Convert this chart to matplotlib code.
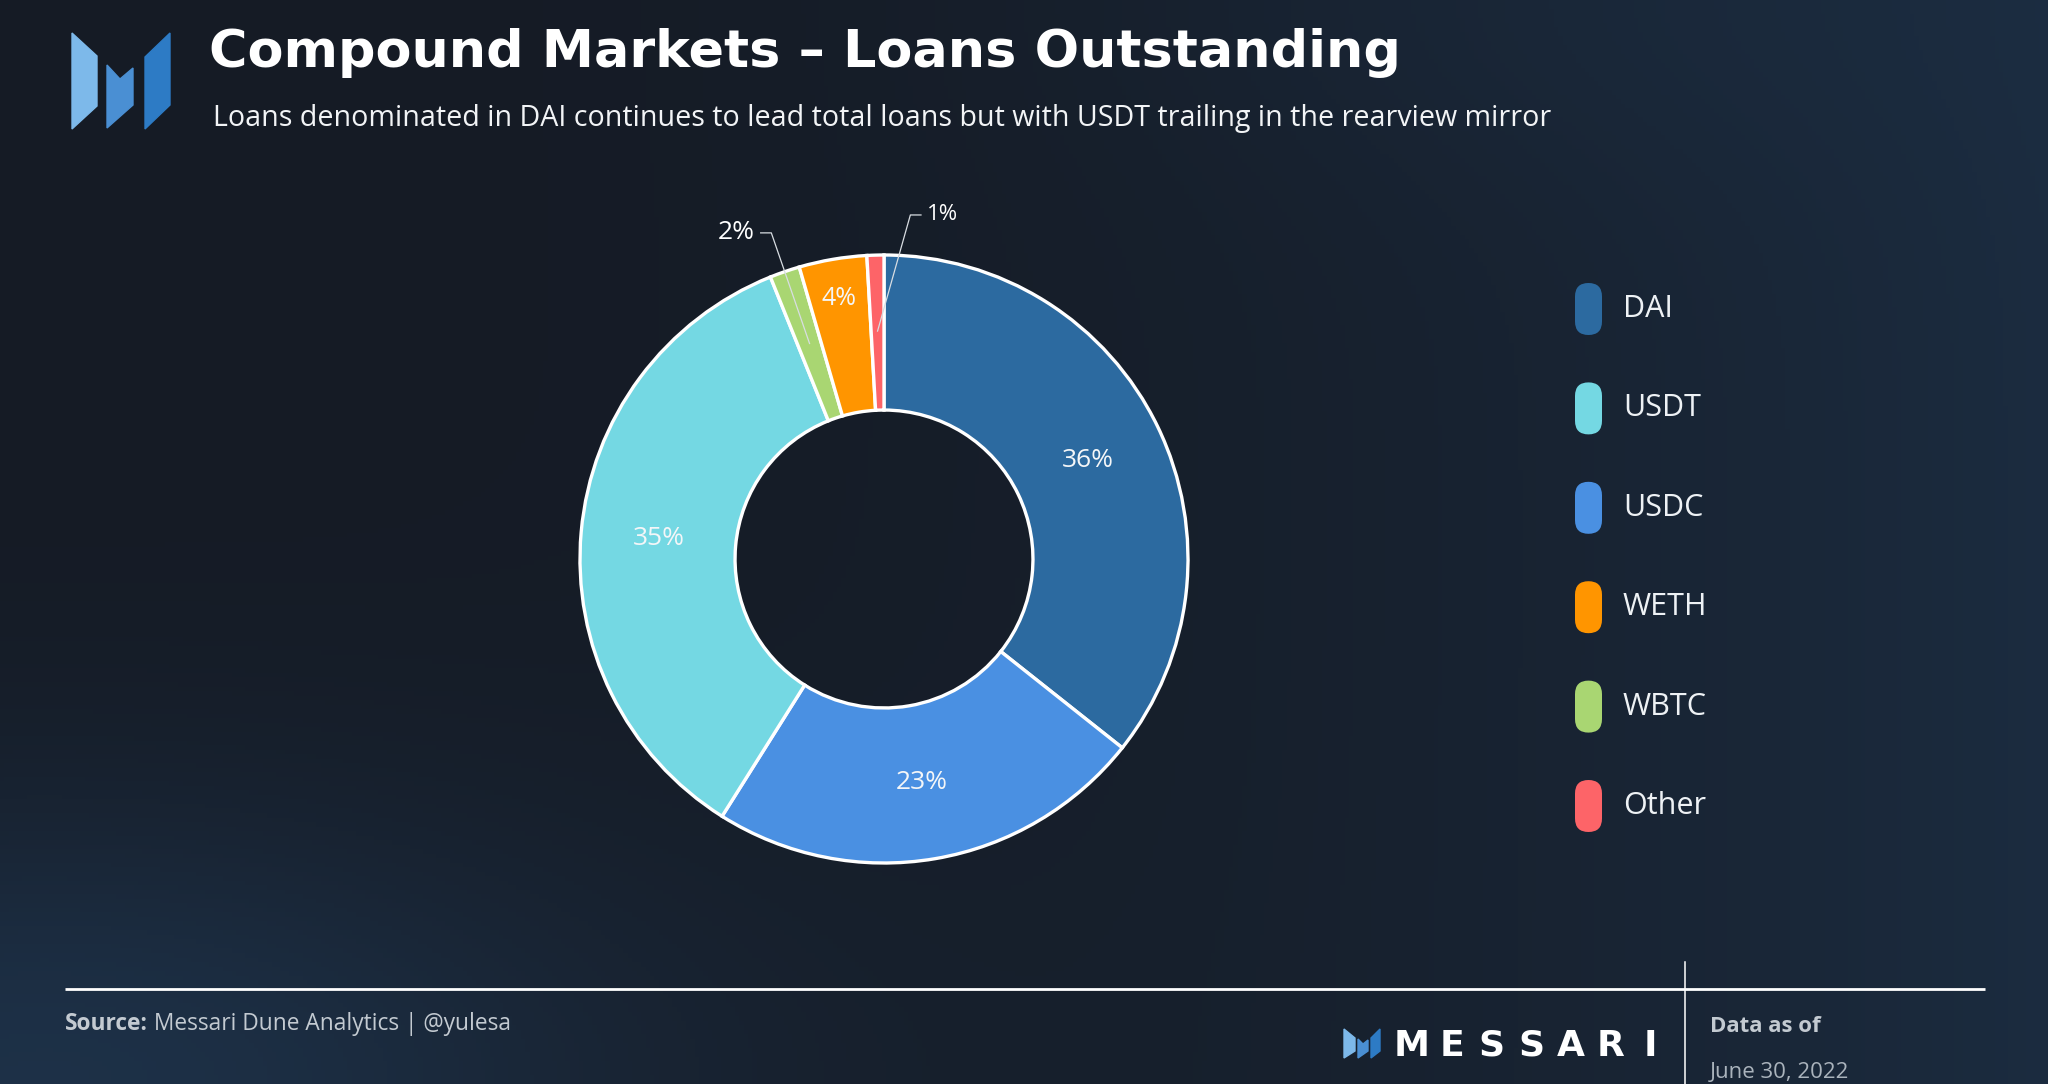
import numpy as np
import matplotlib.pyplot as plt
from matplotlib.patches import FancyBboxPatch, Polygon

# ---- data ----
categories = ["DAI", "USDT", "USDC", "WETH", "WBTC", "Other"]
shares = [35.7, 35.0, 23.3, 3.6, 1.6, 0.9]
colors = ["#2c6aa0", "#74d8e3", "#4a90e2", "#ff9500", "#a9d672", "#fd6468"]
pie_order = ["DAI", "USDC", "USDT", "WBTC", "WETH", "Other"]

title = "Compound Markets – Loans Outstanding"
subtitle = ("Loans denominated in DAI continues to lead total loans but with "
            "USDT trailing in the rearview mirror")
source_label = "Source:"
source_text = " Messari Dune Analytics | @yulesa"
date_label = "Data as of"
date_text = "June 30, 2022"
brand = "MESSARI"

BODY = "Open Sans"
HEAD = "DejaVu Sans"

W, H = 2048, 1084
fig = plt.figure(figsize=(W / 100, H / 100), dpi=100)
renderer = fig.canvas.get_renderer()

# full-figure canvas in pixel coords (y down)
canvas = fig.add_axes([0, 0, 1, 1])
canvas.set_xlim(0, W)
canvas.set_ylim(H, 0)
canvas.axis("off")


def fit_width(txt, target_px):
    # scale the font so the text spans target_px
    ext = txt.get_window_extent(renderer=renderer)
    txt.set_fontsize(txt.get_fontsize() * target_px / ext.width)


# background gradient
yy, xx = np.mgrid[0:1:240j, 0:1:460j]
base = np.array([0x15, 0x1b, 0x25]) / 255
tint = np.array([0x1e, 0x33, 0x4b]) / 255
w = 0.7 * xx ** 2.5 + 0.9 * np.exp(-((xx - 0.02) ** 2 / 0.09 + (yy - 1.0) ** 2 / 0.07))
w += 0.15 * np.exp(-((xx - 0.75) ** 2 / 0.05 + (yy - 0.0) ** 2 / 0.03))
w = np.clip(w, 0, 1)[..., None]
canvas.imshow(base * (1 - w) + tint * w, extent=[0, W, H, 0], aspect="auto", zorder=0)

# logo
logo = [
    ([(72, 33), (97, 56), (97, 106), (72, 129)], "#7db9ea"),
    ([(107, 65), (120, 79), (133, 68), (133, 105), (107, 128)], "#4a8fd3"),
    ([(145, 57), (170, 33), (170, 105), (145, 129)], "#2d7bc5"),
]
for pts, c in logo:
    canvas.add_patch(Polygon(pts, closed=True, color=c, zorder=2))

t = canvas.text(209, 67, title, fontsize=36, fontweight="bold", family=HEAD,
                color="white", va="baseline", ha="left")
fit_width(t, 1191)
t = canvas.text(213, 126, subtitle, fontsize=20, family=BODY, color="#f2f4f6",
                va="baseline", ha="left")
fit_width(t, 1333)

# ---- donut ----
R = 304
cx, cy = 884, 559
half = R * 1.4
ax = fig.add_axes([(cx - half) / W, (H - cy - half) / H, 2 * half / W, 2 * half / H])
ax.patch.set_alpha(0)

share_of = dict(zip(categories, shares))
color_of = dict(zip(categories, colors))
vals = [share_of[c] for c in pie_order]
ax.pie(vals, colors=[color_of[c] for c in pie_order], startangle=90, counterclock=False,
       radius=1.0, wedgeprops=dict(width=0.51, edgecolor="white", linewidth=2.4))
ax.set_xlim(-1.4, 1.4)
ax.set_ylim(-1.4, 1.4)
ax.set_aspect("equal")
ax.axis("off")

total = sum(vals)
inner_r = {"DAI": 0.745, "USDC": 0.745, "USDT": 0.745, "WETH": 0.87}
label_size = {"DAI": 19, "USDC": 19, "USDT": 19, "WETH": 18}
# callouts: (elbow angle shift in deg clockwise, side, font size)
callouts = {"WBTC": (0.0, -1, 19), "Other": (6.0, 1, 16)}

cum = 0.0
for cat, v in zip(pie_order, vals):
    mid = 90 - 360 * (cum + v / 2) / total
    cum += v
    lab = f"{v / total * 100:.0f}%"
    a = np.deg2rad(mid)
    if cat in inner_r:
        r = inner_r[cat]
        ax.text(r * np.cos(a), r * np.sin(a), lab, ha="center", va="center",
                fontsize=label_size[cat], family=BODY, color="#f4f6f8")
    else:
        shift, side, fs = callouts[cat]
        b = np.deg2rad(mid - shift)
        x0, y0 = 0.75 * np.cos(a), 0.75 * np.sin(a)
        x1, y1 = 1.135 * np.cos(b), 1.135 * np.sin(b)
        x2 = x1 + side * 0.035
        ax.plot([x0, x1, x2], [y0, y1, y1], color="#d8dde2", lw=0.9, zorder=5)
        ax.text(x2 + side * 0.018, y1, lab, ha="left" if side > 0 else "right",
                va="center", fontsize=fs, family=BODY, color="white")

# ---- legend ----
for i, (cat, c) in enumerate(zip(categories, colors)):
    yc = 309 + 99.4 * i
    canvas.add_patch(FancyBboxPatch((1575, yc - 26), 27, 52,
                                    boxstyle="round,pad=0,rounding_size=13.5",
                                    fc=c, ec="none", zorder=3))
    canvas.text(1623, yc, cat, fontsize=22, family=BODY, color="#eef2f5",
                va="center", ha="left")

# ---- footer ----
canvas.plot([65, 1985], [989, 989], color="white", lw=2.0, solid_capstyle="butt", zorder=3)
canvas.plot([1685, 1685], [962, H], color="white", lw=1.1, zorder=3)

t1 = canvas.text(65, 1036, source_label, fontsize=16.4, fontweight="bold", family=BODY,
                 color="#c3cad1", va="bottom", ha="left")
canvas.annotate(source_text, xy=(1, 0), xycoords=t1, fontsize=16.4, family=BODY,
                color="#c3cad1", va="bottom", ha="left")

canvas.text(1710, 1032, date_label, fontsize=16, fontweight="bold", family=BODY,
            color="#c3cad1", va="baseline", ha="left")
canvas.text(1710, 1078, date_text, fontsize=16, family=BODY,
            color="#aab3bc", va="baseline", ha="left")

# brand mark
mini = [
    ([(1344, 1029), (1355, 1038), (1355, 1051), (1344, 1058)], "#7db9ea"),
    ([(1358, 1039), (1363, 1044), (1368, 1040), (1368, 1051), (1358, 1058)], "#4a8fd3"),
    ([(1371, 1038), (1380, 1029), (1380, 1051), (1371, 1058)], "#2d7bc5"),
]
for pts, c in mini:
    canvas.add_patch(Polygon(pts, closed=True, color=c, zorder=2))
for i, ch in enumerate(brand):
    canvas.text(1412 + 39.7 * i, 1056, ch, fontsize=26, fontweight="bold", family=HEAD,
                color="white", va="baseline", ha="center")

fig.savefig("out.png", dpi=100)
